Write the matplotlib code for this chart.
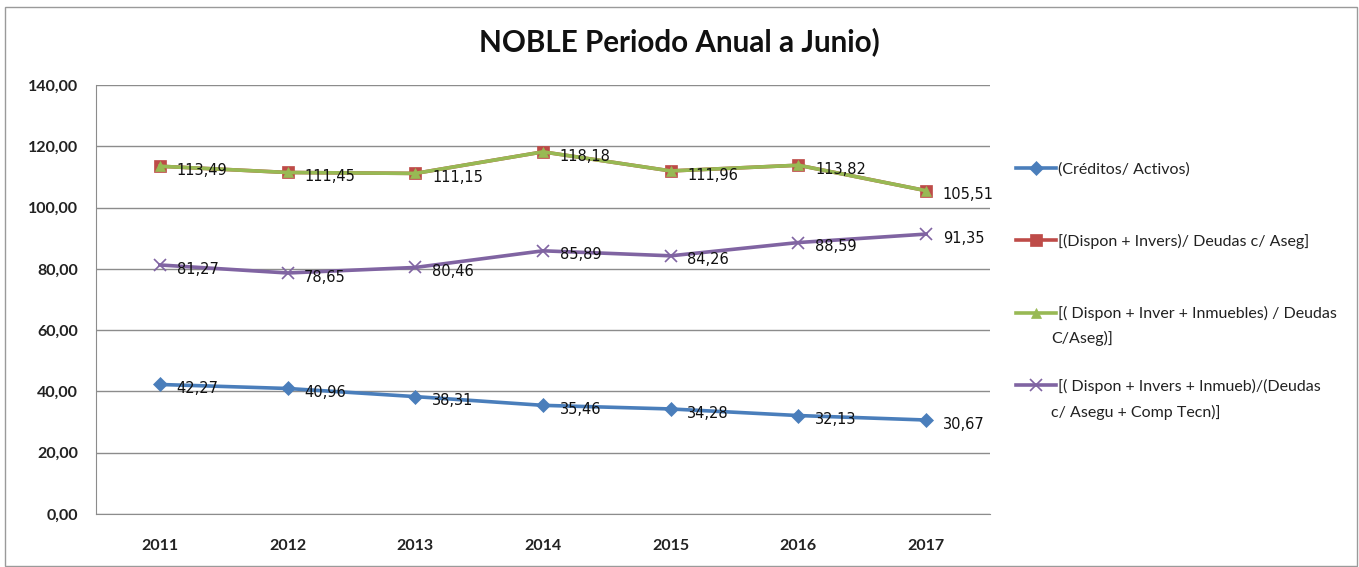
import numpy as np
import matplotlib.pyplot as plt
from matplotlib.ticker import FuncFormatter
from matplotlib.patches import Rectangle

# datos
years = ['2011', '2012', '2013', '2014', '2015', '2016', '2017']
creditos = [42.27, 40.96, 38.31, 35.46, 34.28, 32.13, 30.67]
dispon_invers = [113.49, 111.45, 111.15, 118.18, 111.96, 113.82, 105.51]
dispon_inmuebles = [113.49, 111.45, 111.15, 118.18, 111.96, 113.82, 105.51]
dispon_comp = [81.27, 78.65, 80.46, 85.89, 84.26, 88.59, 91.35]

labels = ['(Créditos/ Activos)',
          '[(Dispon + Invers)/ Deudas c/ Aseg]',
          '[( Dispon + Inver + Inmuebles) / Deudas',
          '[( Dispon + Invers + Inmueb)/(Deudas']
second_lines = ['', '', 'C/Aseg)]', 'c/ Asegu + Comp Tecn)]']

def coma(v):
    return f'{v:.2f}'.replace('.', ',')

W, H = 1359, 567
fig = plt.figure(figsize=(W / 100, H / 100), dpi=100)
ax = fig.add_axes([96 / W, 1 - 514 / H, 894 / W, 429 / H])
x = np.arange(len(years))

series = [
    (creditos, '#4A7EBB', 'D', 7, True),
    (dispon_invers, '#BE4B48', 's', 8, False),
    (dispon_inmuebles, '#98B954', '^', 7, True),
    (dispon_comp, '#8064A2', 'x', 9, True),
]
for (vals, col, mk, ms, lab), name in zip(series, labels):
    ax.plot(x, vals, color=col, marker=mk, markersize=ms, linewidth=2.6,
            markeredgewidth=1.2 if mk == 'x' else 0.5, label=name, zorder=3)
    if lab:
        for xi, v in zip(x, vals):
            ax.annotate(coma(v), (xi, v), xytext=(12, -3), textcoords='offset points',
                        ha='left', va='center', fontsize=10.5, color='#111111',
                        family='DejaVu Sans', zorder=4)

ax.set_ylim(0, 140)
ax.set_yticks(np.arange(0, 141, 20))
ax.yaxis.set_major_formatter(FuncFormatter(lambda v, p: coma(v)))
ax.set_xlim(-0.5, 6.5)
ax.set_xticks(x)
ax.set_xticklabels(years)
ax.grid(axis='y', color='#8c8c8c', linewidth=1)
ax.set_axisbelow(True)
for s in ['top', 'right']:
    ax.spines[s].set_visible(False)
for s in ['left', 'bottom']:
    ax.spines[s].set_color('#8c8c8c')
ax.tick_params(axis='y', length=0, labelsize=11.5, pad=13, colors='#222222')
ax.tick_params(axis='x', length=0, labelsize=11.5, pad=18, colors='#222222')
for t in ax.get_xticklabels() + ax.get_yticklabels():
    t.set_family('Lato')
    t.set_fontweight('bold')

fig.text(0.5, 1 - 42 / H, 'NOBLE Periodo Anual a Junio)', ha='center', va='center',
         fontsize=21.3, fontweight='bold', family='Lato', color='#111111')

leg = ax.legend(loc='center left', bbox_to_anchor=(1008 / W, 1 - 278 / H),
                bbox_transform=fig.transFigure, frameon=False,
                labelspacing=3.58, handlelength=2.5, handletextpad=0.15,
                borderpad=0, prop={'family': 'Lato', 'size': 11.5})
for t in leg.get_texts():
    t.set_color('#222222')
for y0, txt in zip([338, 412], second_lines[2:]):
    fig.text(1051 / W, 1 - y0 / H, txt, ha='left', va='center',
             fontsize=11.5, family='Lato', color='#222222')

fig.patches.append(Rectangle((5 / W, 1 / H), 1352 / W, 559 / H, transform=fig.transFigure,
                             fill=False, edgecolor='#9a9a9a', linewidth=1))

plt.savefig('out.png')
